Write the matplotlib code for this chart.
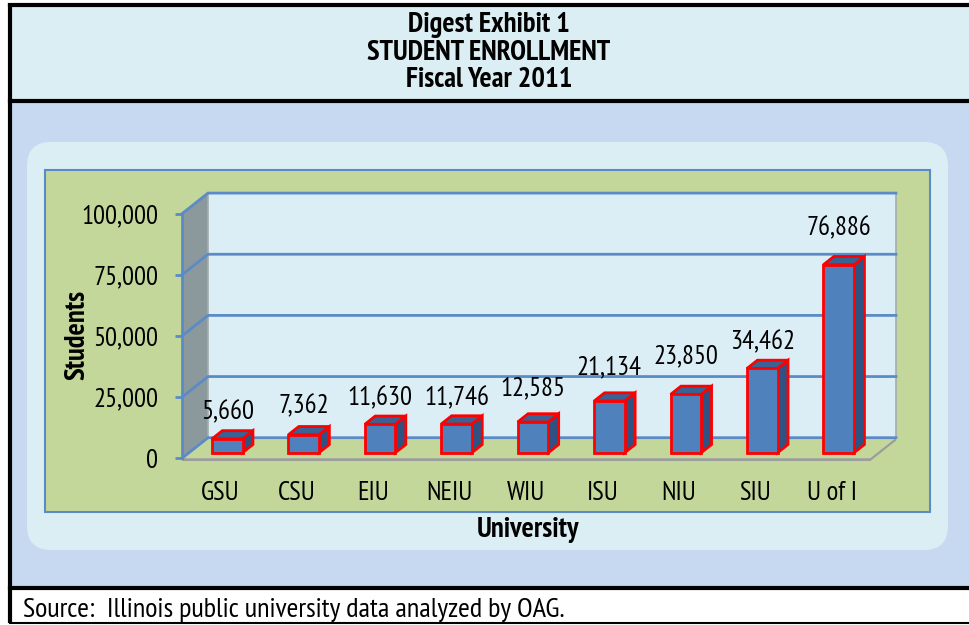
import matplotlib
matplotlib.use("Agg")
import matplotlib.pyplot as plt
from matplotlib.patches import Polygon, Rectangle, FancyBboxPatch
from matplotlib.ticker import StrMethodFormatter
from matplotlib import font_manager

universities = ["GSU", "CSU", "EIU", "NEIU", "WIU", "ISU", "NIU", "SIU", "U of I"]
students = [5660, 7362, 11630, 11746, 12585, 21134, 23850, 34462, 76886]
y_ticks = [0, 25000, 50000, 75000, 100000]

title_lines = ["Digest Exhibit 1", "STUDENT ENROLLMENT", "Fiscal Year 2011"]
source_note = "Source:  Illinois public university data analyzed by OAG."


def pick_face():
    # a narrow face with real regular + bold files (Arial Narrow look)
    chain = ["Liberation Sans Narrow", "Arial Narrow", "PT Sans Narrow", "IBM Plex Sans Condensed",
             "Fira Sans Condensed", "Encode Sans Condensed", "Asap Condensed"]
    for name in chain:
        weights = {f.weight for f in font_manager.fontManager.ttflist
                   if f.name == name and f.style == "normal" and "[" not in f.fname}
        if 400 in weights and 700 in weights:
            return name
    return "Liberation Sans"


face = pick_face()
plt.rcParams["font.family"] = [face, "DejaVu Sans"]

W, H = 969, 625
fig = plt.figure(figsize=(W / 100, H / 100), dpi=100)
rend = fig.canvas.get_renderer()


def fit_size(s, width_px, weight="normal"):
    t = fig.text(0, 0, s, fontsize=10, fontweight=weight)
    w = t.get_window_extent(renderer=rend).width
    t.remove()
    return 10 * width_px / w


fs_num = fit_size("100,000", 77)
fs_bold = fit_size("University", 103, "bold")
fs_title = fit_size("STUDENT ENROLLMENT", 244, "bold")
fs_src = fit_size(source_note, 543)


def ptext(x, y, s, **kw):
    # text placed in page pixels (top-left origin)
    return fig.text(x / W, 1 - y / H, s, **kw)


# page furniture, in pixels
bg = fig.add_axes([0, 0, 1, 1])
bg.set_xlim(0, W)
bg.set_ylim(H, 0)
bg.axis("off")

bg.add_patch(Rectangle((10, 5), W, 96, color="#dbeef4", zorder=0))
bg.add_patch(Rectangle((10, 101), W, 487, color="#c6d9f1", zorder=0))
bg.add_patch(FancyBboxPatch((27, 142), 921, 408, boxstyle="round,pad=0,rounding_size=24",
                            fc="#dbeef4", ec="none", zorder=1))
bg.plot([10, 10], [3, 623], color="black", lw=3, solid_capstyle="butt")
bg.plot([10, W], [4.5, 4.5], color="black", lw=3)
bg.plot([10, W], [101, 101], color="black", lw=3)
bg.plot([10, W], [588, 588], color="black", lw=3)
bg.plot([10, W], [622.5, 622.5], color="black", lw=1.5)

for k, line in enumerate(title_lines):
    ptext(489, 32.5 + k * 27.3, line, ha="center", va="baseline", fontsize=fs_title, fontweight="bold")
ptext(23, 617, source_note, ha="left", va="baseline", fontsize=fs_src)
ptext(77.5, 335, "Students", ha="center", va="center", rotation=90, fontsize=fs_bold, fontweight="bold")
ptext(528, 537, "University", ha="center", va="baseline", fontsize=fs_bold, fontweight="bold")

# chart area: green box 45..930 x 170..512 px
ax = fig.add_axes([45 / W, (H - 512) / H, 885 / W, 342 / H])
ax.set_facecolor("#c4d79b")
px_cat = 76.44          # pixels per category
px_val = 0.002446       # pixels per student
x_axis_px, zero_px = 182, 458.3
ax.set_xlim(-0.5 - (x_axis_px - 45) / px_cat, -0.5 + (930 - x_axis_px) / px_cat)
ax.set_ylim(-(512 - zero_px) / px_val, (zero_px - 170) / px_val)
ax.add_patch(Rectangle((0, 0), 1, 1, transform=ax.transAxes, fill=False,
                       ec="#5b8bc6", lw=1.5, clip_on=False, zorder=10))

DX = 26 / px_cat        # depth of the 3d box
DY = 20.6 / px_val
n = len(universities)
top = y_ticks[-1]
xl, xr = -0.5, n - 0.5

# floor slab
t = 3 / px_val
ax.add_patch(Polygon([(xl, 0), (xr, 0), (xr, -t), (xl, -t)], fc="#9c9c9c", ec="none", zorder=1))
ax.add_patch(Polygon([(xr, 0), (xr + DX, DY), (xr + DX, DY - t), (xr, -t)], fc="#9c9c9c", ec="none", zorder=1))
ax.add_patch(Polygon([(xl, 0), (xr, 0), (xr + DX, DY), (xl + DX, DY)], fc="#c4d79b", ec="none", zorder=1))

# walls
ax.add_patch(Polygon([(xl, 0), (xl + DX, DY), (xl + DX, top + DY), (xl, top)], fc="#8b999d", ec="none", zorder=1))
ax.add_patch(Rectangle((xl + DX, DY), n, top, fc="#dceef5", ec="#a3adad", lw=1.2, zorder=1))
for v in y_ticks:
    ax.plot([xl, xl + DX, xr + DX], [v, v + DY, v + DY], color="#5b8bc6", lw=2, zorder=2,
            solid_joinstyle="miter")

# bars
f0, f1, hw = 0.27, 0.67, 0.2
for i, v in enumerate(students):
    a, b = i - hw + f0 * DX, i + hw + f0 * DX
    y0, y1 = f0 * DY, f1 * DY
    sx = (f1 - f0) * DX
    kw = dict(ec="#ff0000", lw=2, joinstyle="miter", zorder=3)
    ax.add_patch(Polygon([(b, y0), (b + sx, y1), (b + sx, v + y1), (b, v + y0)], fc="#2f5283", **kw))
    ax.add_patch(Polygon([(a, v + y0), (b, v + y0), (b + sx, v + y1), (a + sx, v + y1)], fc="#3a6294", **kw))
    ax.add_patch(Rectangle((a, y0), b - a, v, fc="#4f81bd", **kw))

# value labels, lifted a little differently like the exhibit
lift = [27, 28, 26, 26, 34, 34, 38, 26, 36]
for i, v in enumerate(students):
    ax.annotate(f"{v:,}", (i + f0 * DX, v + f0 * DY), xytext=(0, lift[i]), textcoords="offset pixels",
                ha="center", va="center", fontsize=fs_num, zorder=4)

# axes
for s in ["top", "right"]:
    ax.spines[s].set_visible(False)
ax.spines["left"].set_position(("data", xl))
ax.spines["left"].set_bounds(0, top)
ax.spines["left"].set_color("#5b8bc6")
ax.spines["left"].set_linewidth(2)
ax.spines["left"].set_zorder(5)
ax.spines["bottom"].set_position(("data", 0))
ax.spines["bottom"].set_visible(False)
ax.set_yticks(y_ticks)
ax.yaxis.set_major_formatter(StrMethodFormatter("{x:,.0f}"))
ax.tick_params(axis="y", direction="out", length=5, width=2, color="#5b8bc6", pad=12, labelsize=fs_num)
ax.set_xticks(range(n))
ax.set_xticklabels(universities)
ax.tick_params(axis="x", length=0, pad=16, labelsize=fs_num)

fig.savefig("out.png", dpi=100)
